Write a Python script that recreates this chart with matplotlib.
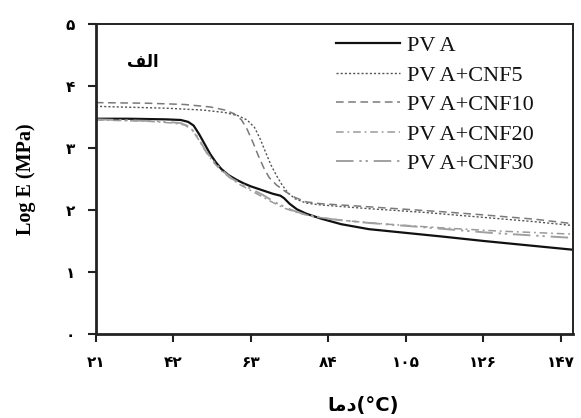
import matplotlib
matplotlib.use("Agg")
import matplotlib.pyplot as plt

# ---- data ----
T_pva = [21, 30, 40, 44, 46, 47.5, 49, 50.5, 52, 53.5, 55, 57, 59, 61, 63, 66, 69, 71, 72, 73.5,
         75.5, 78, 82, 87.5, 95, 105, 115, 126, 138, 150]
E_pva = [3.47, 3.47, 3.46, 3.45, 3.42, 3.36, 3.22, 3.06, 2.90, 2.77, 2.66, 2.56, 2.49, 2.43, 2.38,
         2.32, 2.26, 2.23, 2.19, 2.10, 2.01, 1.94, 1.86, 1.77, 1.69, 1.63, 1.57, 1.50, 1.43, 1.36]

T_cnf5 = [21, 40, 50, 56, 59.5, 62, 64, 65.5, 67, 68.5, 70, 71.5, 73, 75, 78, 82, 95, 110, 126, 140, 150]
E_cnf5 = [3.67, 3.64, 3.61, 3.57, 3.52, 3.45, 3.33, 3.15, 2.93, 2.72, 2.55, 2.40, 2.28, 2.18, 2.11,
          2.08, 2.02, 1.96, 1.88, 1.81, 1.75]

T_cnf10 = [21, 35, 45, 52, 56, 58.5, 60.5, 62, 63.5, 65, 66.5, 68, 70, 72.5, 75, 78, 82, 90, 100,
           115, 126, 140, 150]
E_cnf10 = [3.73, 3.72, 3.70, 3.66, 3.61, 3.55, 3.45, 3.30, 3.10, 2.88, 2.68, 2.52, 2.40, 2.29, 2.20,
           2.13, 2.10, 2.07, 2.03, 1.97, 1.92, 1.85, 1.78]

T_cnf20 = [21, 35, 42, 45, 47, 49, 51, 53, 55, 57.5, 60, 64, 68, 72, 76, 80, 88, 100, 115, 130, 150]
E_cnf20 = [3.45, 3.43, 3.40, 3.37, 3.30, 3.12, 2.92, 2.76, 2.63, 2.51, 2.41, 2.28, 2.15, 2.03, 1.95,
           1.89, 1.83, 1.77, 1.71, 1.66, 1.61]

T_cnf30 = [21, 38, 44, 46.5, 48.5, 50.5, 52.5, 55, 58, 62, 66, 70, 74, 78, 85, 95, 110, 128, 150]
E_cnf30 = [3.46, 3.43, 3.40, 3.34, 3.18, 2.98, 2.81, 2.65, 2.50, 2.37, 2.25, 2.11, 2.00, 1.92, 1.85,
           1.79, 1.72, 1.63, 1.55]

labels = ["PV A", "PV A+CNF5", "PV A+CNF10", "PV A+CNF20", "PV A+CNF30"]
x_ticks = [21, 42, 63, 84, 105, 126, 147]
x_ticklabels = ["۲۱", "۴۲", "۶۳", "۸۴", "۱۰۵", "۱۲۶", "۱۴۷"]
y_ticks = [0, 1, 2, 3, 4, 5]
y_ticklabels = ["۰", "۱", "۲", "۳", "۴", "۵"]
panel_label = "\uFED2\uFEDF\uFE8D"          # الف in visual order
x_label = "\uFE8E\uFEE3\uFEA9(°C)"           # دما(°C) in visual order
y_label = "Log E (MPa)"

fig = plt.figure(figsize=(5.81, 4.18), dpi=100)
ax = fig.add_axes([0.165, 0.201, 0.821, 0.742])

ax.plot(T_pva, E_pva, color="#111111", lw=1.6, ls="-", label=labels[0])
ax.plot(T_cnf5, E_cnf5, color="#555555", lw=1.0, ls=(0, (1.5, 1.5)), label=labels[1])
ax.plot(T_cnf10, E_cnf10, color="#7a7a7a", lw=1.1, ls=(0, (5, 3)), label=labels[2])
ax.plot(T_cnf20, E_cnf20, color="#9a9a9a", lw=1.1, ls=(0, (5, 2.5, 1.2, 2.5)), label=labels[3])
ax.plot(T_cnf30, E_cnf30, color="#a0a0a0", lw=1.4, ls=(0, (9, 3, 1.2, 2, 1.2, 3)), label=labels[4])

ax.set_xlim(21, 150.3)
ax.set_ylim(0, 5)
ax.set_xticks(x_ticks)
ax.set_xticklabels(x_ticklabels, fontfamily="DejaVu Sans", fontweight="bold", fontsize=11)
ax.set_yticks(y_ticks)
ax.set_yticklabels(y_ticklabels, fontfamily="DejaVu Sans", fontweight="bold", fontsize=11)
ax.tick_params(axis="both", direction="out", length=6, width=1.5, color="#222222", pad=9)

for s in ["left", "bottom"]:
    ax.spines[s].set_linewidth(2.0)
for s in ["top", "right"]:
    ax.spines[s].set_linewidth(1.4)
for s in ax.spines.values():
    s.set_color("#222222")

ax.set_ylabel(y_label, fontfamily="Liberation Serif", fontweight="bold", fontsize=14.5, labelpad=21)
ax.set_xlabel(x_label, fontfamily="DejaVu Sans", fontweight="bold", fontsize=14, labelpad=19)
ax.xaxis.label.set_x(0.56)

ax.text(0.099, 0.877, panel_label, transform=ax.transAxes, fontfamily="DejaVu Sans",
        fontweight="bold", fontsize=12, ha="center", va="center")

leg = ax.legend(loc="upper left", frameon=False, prop={"family": "Liberation Serif", "size": 16},
                handlelength=2.9, handletextpad=0.3, labelspacing=0.40,
                bbox_to_anchor=(0.503, 0.962), borderaxespad=0, borderpad=0)
for t in leg.get_texts():
    t.set_color("#111111")

fig.savefig("out.png", dpi=100)
